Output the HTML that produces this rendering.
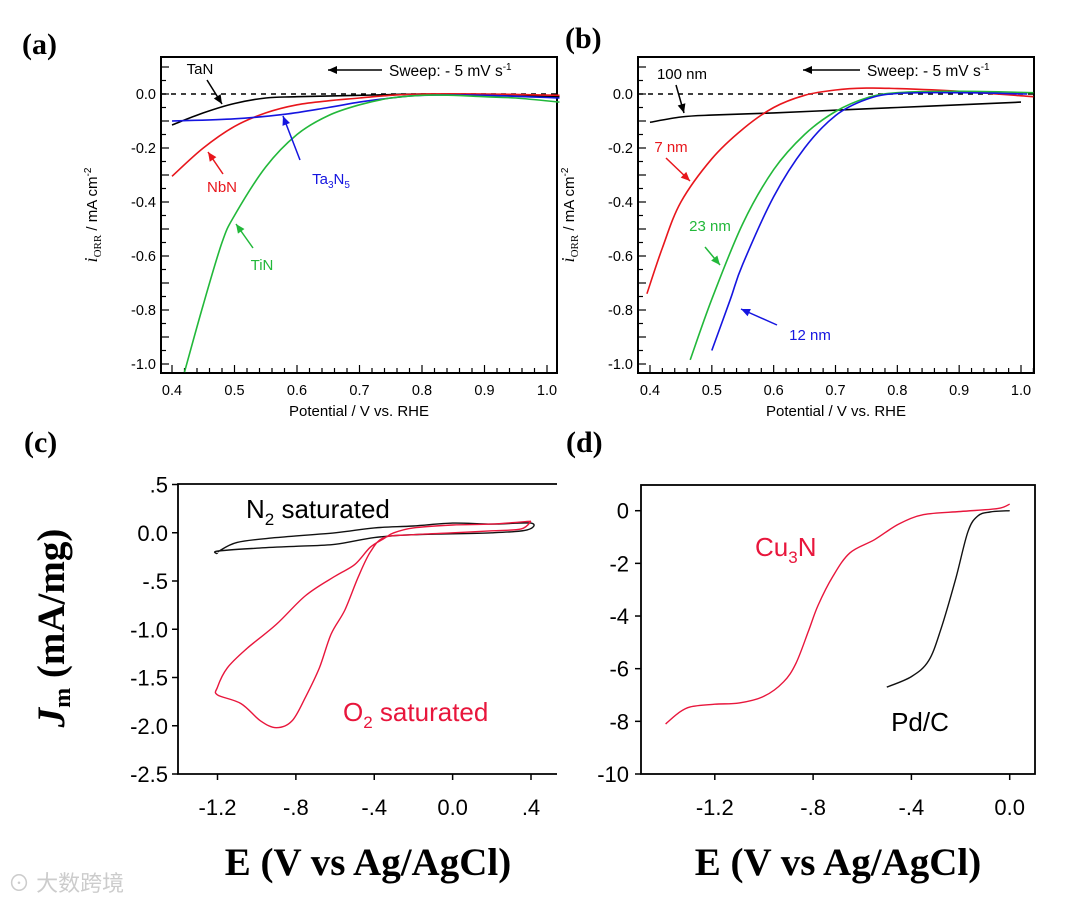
<!DOCTYPE html>
<html><head><meta charset="utf-8">
<style>
html,body{margin:0;padding:0;background:#fff;}
svg{display:block;}
text{font-family:"Liberation Sans","Noto Sans CJK SC",sans-serif;}
.pl{font-family:"Liberation Serif",serif;font-weight:bold;font-size:30px;}
.big{font-family:"Liberation Serif",serif;font-weight:bold;font-size:39px;}
</style></head>
<body>
<svg id="fig" width="1080" height="904" viewBox="0 0 1080 904" xmlns="http://www.w3.org/2000/svg">
<text class="pl" x="22" y="54">(a)</text>
<text class="pl" x="565" y="48">(b)</text>
<text class="pl" x="24" y="452">(c)</text>
<text class="pl" x="566" y="452">(d)</text>
<text x="8" y="891" font-size="22" fill="#ccc">⊙ 大数跨境</text>
</svg>
<script>
// ---- Panel a data ----
const aTaN_x=[0.40,0.45,0.50,0.55,0.60,0.70,0.80,0.90,1.02];
const aTaN_y=[-0.115,-0.07,-0.035,-0.015,-0.01,-0.005,0,-0.005,-0.01];
const aNbN_x=[0.40,0.45,0.50,0.55,0.60,0.65,0.70,0.75,0.80,0.90,1.02];
const aNbN_y=[-0.305,-0.2,-0.12,-0.07,-0.04,-0.025,-0.015,-0.005,0,0,-0.005];
const aTa3N5_x=[0.40,0.50,0.58,0.65,0.70,0.75,0.80,0.90,1.02];
const aTa3N5_y=[-0.1,-0.092,-0.075,-0.05,-0.03,-0.015,-0.005,-0.005,-0.015];
const aTiN_x=[0.42,0.45,0.48,0.50,0.55,0.60,0.65,0.70,0.75,0.80,0.85,0.90,0.95,1.02];
const aTiN_y=[-1.03,-0.78,-0.55,-0.45,-0.27,-0.15,-0.08,-0.04,-0.015,-0.005,-0.005,-0.01,-0.015,-0.03];
// ---- Panel b data ----
const b100_x=[0.40,0.45,0.50,0.60,0.70,0.80,0.90,1.00];
const b100_y=[-0.105,-0.085,-0.078,-0.07,-0.06,-0.05,-0.04,-0.03];
const b7_x=[0.395,0.42,0.45,0.50,0.55,0.60,0.65,0.70,0.75,0.80,0.90,1.02];
const b7_y=[-0.74,-0.57,-0.4,-0.24,-0.13,-0.05,-0.005,0.015,0.022,0.02,0.01,-0.01];
const b23_x=[0.465,0.50,0.55,0.60,0.65,0.70,0.75,0.80,0.90,1.02];
const b23_y=[-0.985,-0.76,-0.48,-0.28,-0.15,-0.065,-0.015,0.005,0.01,0.005];
const b12_x=[0.50,0.53,0.55,0.60,0.65,0.70,0.75,0.80,0.90,1.01];
const b12_y=[-0.95,-0.76,-0.63,-0.38,-0.2,-0.08,-0.02,0.002,0.005,0];
// ---- Panel c data ----
const cN2_x=[-1.2,-1.1,-0.9,-0.6,-0.4,-0.2,0.0,0.2,0.4,0.38,0.2,-0.2,-0.4,-0.6,-0.8,-1.0,-1.2,-1.2];
const cN2_y=[-0.2,-0.1,-0.05,0.0,0.05,0.07,0.1,0.09,0.1,0.03,0.0,-0.02,-0.05,-0.12,-0.14,-0.16,-0.19,-0.22];
const cO2_x=[0.4,0.35,0.2,0.0,-0.2,-0.35,-0.42,-0.48,-0.55,-0.62,-0.68,-0.75,-0.82,-0.9,-0.98,-1.08,-1.2,-1.2,-1.15,-1.05,-0.9,-0.75,-0.6,-0.5,-0.42,-0.35,-0.3,-0.2,0.0,0.2,0.4];
const cO2_y=[0.12,0.04,0.02,0.0,-0.02,-0.05,-0.2,-0.45,-0.8,-1.05,-1.4,-1.7,-1.95,-2.02,-1.95,-1.77,-1.68,-1.6,-1.4,-1.2,-0.95,-0.65,-0.45,-0.33,-0.15,-0.06,0.0,0.05,0.08,0.09,0.12];
// ---- Panel d data ----
const dCu_x=[-1.4,-1.35,-1.3,-1.2,-1.1,-1.0,-0.92,-0.87,-0.82,-0.78,-0.72,-0.65,-0.55,-0.45,-0.35,-0.2,-0.05,0.0];
const dCu_y=[-8.1,-7.7,-7.45,-7.35,-7.3,-7.05,-6.5,-5.8,-4.6,-3.6,-2.5,-1.6,-1.1,-0.5,-0.15,-0.03,0.08,0.25];
const dPd_x=[-0.5,-0.4,-0.33,-0.28,-0.22,-0.17,-0.13,-0.08,0.0];
const dPd_y=[-6.7,-6.3,-5.7,-4.5,-2.6,-0.8,-0.2,-0.05,0.0];
// tick labels
const abXTicks=["0.4","0.5","0.6","0.7","0.8","0.9","1.0"];
const abYTicks=["0.0","-0.2","-0.4","-0.6","-0.8","-1.0"];
const cXTicks=["-1.2","-.8","-.4","0.0",".4"];
const cYTicks=[".5","0.0","-.5","-1.0","-1.5","-2.0","-2.5"];
const dXTicks=["-1.2","-.8","-.4","0.0"];
const dYTicks=["0","-2","-4","-6","-8","-10"];

const NS="http://www.w3.org/2000/svg";
const svg=document.getElementById('fig');
function mk(tag,attrs,parent){const e=document.createElementNS(NS,tag);for(const k in attrs)e.setAttribute(k,attrs[k]);(parent||svg).appendChild(e);return e;}
function txt(s,x,y,size,anchor,fill,parent){const t=mk('text',{x:x,y:y,'font-size':size,'text-anchor':anchor||'middle',fill:fill||'#000'},parent);t.textContent=s;return t;}
function lin(x0,x1,p0,p1){return v=>p0+(v-x0)/(x1-x0)*(p1-p0);}
function smooth(pts){let d='M'+pts[0][0].toFixed(1)+','+pts[0][1].toFixed(1);
 for(let i=0;i<pts.length-1;i++){const p0=pts[i-1]||pts[i],p1=pts[i],p2=pts[i+1],p3=pts[i+2]||p2;
 const c1=[p1[0]+(p2[0]-p0[0])/6,p1[1]+(p2[1]-p0[1])/6],c2=[p2[0]-(p3[0]-p1[0])/6,p2[1]-(p3[1]-p1[1])/6];
 d+=' C'+c1[0].toFixed(1)+','+c1[1].toFixed(1)+' '+c2[0].toFixed(1)+','+c2[1].toFixed(1)+' '+p2[0].toFixed(1)+','+p2[1].toFixed(1);}return d;}
function series(xs,ys,sx,sy,color,name,w){
 const p=mk('path',{d:smooth(xs.map((x,i)=>[sx(x),sy(ys[i])])),fill:'none',stroke:color,'stroke-width':w||1.6});
 
 }
function arrow(x1,y1,x2,y2,color,name){
 const g=mk('g',{});
 
 
 mk('line',{x1:x1,y1:y1,x2:x2,y2:y2,stroke:color,'stroke-width':1.5},g);
 const a=Math.atan2(y2-y1,x2-x1),L=9,W=4;
 const bx=x2-L*Math.cos(a),by=y2-L*Math.sin(a);
 mk('polygon',{points:`${x2},${y2} ${bx-W*Math.sin(a)},${by+W*Math.cos(a)} ${bx+W*Math.sin(a)},${by-W*Math.cos(a)}`,fill:color},g);}

// ---------- panels a & b ----------
function panelAB(L,R,x04,x10,prefix,arrX1,arrX2,swX){
 const T=57,B=373;
 const sx=lin(0.4,1.0,x04,x10), sy=lin(0,-1,94,364);
 const f=mk('rect',{x:L,y:T,width:R-L,height:B-T,fill:'none',stroke:'#000','stroke-width':2});
 
 
 for(let v=0.38;v<=1.021;v+=0.02){const X=sx(v);if(X<L||X>R)continue;const maj=Math.abs(v*10-Math.round(v*10))<0.01;mk('line',{x1:X,y1:B,x2:X,y2:B-(maj?8:5),stroke:'#000','stroke-width':1.2});}
 for(let v=0.1;v>=-1.05;v-=0.05){const Y=sy(v);if(Y<T||Y>B)continue;const maj=Math.abs(v*10-Math.round(v*10))<0.01;mk('line',{x1:L,y1:Y,x2:L+(maj?8:5),y2:Y,stroke:'#000','stroke-width':1.2});}
 abXTicks.forEach((s,i)=>{const t=txt(s,sx(0.4+0.1*i),395,14.5);});
 abYTicks.forEach((s,i)=>{const t=txt(s,L-5,sy(-0.2*i)+5,14.5,'end');});
 const xt=txt('Potential  /  V vs. RHE',(L+R)/2,416,15);
 
 const yg=mk('text',{transform:`translate(${L-64},215) rotate(-90)`,'font-size':15,'text-anchor':'middle'});
 yg.innerHTML='<tspan font-family="Liberation Serif" font-style="italic" font-size="18">i</tspan><tspan font-family="Liberation Serif" font-size="11" dy="4">ORR</tspan><tspan dy="-4">  /  mA cm</tspan><tspan font-size="10" dy="-6">-2</tspan>';
 
 
 const z=mk('line',{x1:L,y1:sy(0),x2:R,y2:sy(0),stroke:'#000','stroke-width':1.5,'stroke-dasharray':'5,5'});
 
 arrow(arrX1,70,arrX2,70,'#000',prefix+'-sweep-arrow');
 const sw=mk('text',{x:swX,y:76,'font-size':15.5,'text-anchor':'start'});
 sw.innerHTML='Sweep: - 5 mV s<tspan font-size="10" dy="-6">-1</tspan>';
 
 return {sx,sy};
}
let A=panelAB(161,557,172,547,'panel-a',382,328,389);
series(aTaN_x,aTaN_y,A.sx,A.sy,'#000','tan-curve');
series(aNbN_x,aNbN_y,A.sx,A.sy,'#e8161c','nbn-curve');
series(aTa3N5_x,aTa3N5_y,A.sx,A.sy,'#1515e0','ta3n5-curve');
series(aTiN_x,aTiN_y,A.sx,A.sy,'#22b83a','tin-curve');
txt('TaN',200,74,15);
arrow(207,80,222,104,'#000','tan-arrow');
txt('NbN',222,192,15,'middle','#e8161c');
arrow(223,174,208,152,'#e8161c','nbn-arrow');
const tl=mk('text',{x:331,y:184,'font-size':15,'text-anchor':'middle',fill:'#1515e0'});
tl.innerHTML='Ta<tspan font-size="10" dy="4">3</tspan><tspan dy="-4">N</tspan><tspan font-size="10" dy="4">5</tspan>';

arrow(300,160,283,116,'#1515e0','ta3n5-arrow');
txt('TiN',262,270,15,'middle','#22b83a');
arrow(253,248,236,224,'#22b83a','tin-arrow');

let Bp=panelAB(638,1034,650,1021,'panel-b',860,803,867);
series(b100_x,b100_y,Bp.sx,Bp.sy,'#000','100nm-curve');
series(b7_x,b7_y,Bp.sx,Bp.sy,'#e8161c','7nm-curve');
series(b23_x,b23_y,Bp.sx,Bp.sy,'#22b83a','23nm-curve');
series(b12_x,b12_y,Bp.sx,Bp.sy,'#1515e0','12nm-curve');
txt('100 nm',682,79,15);
arrow(676,85,684,113,'#000','100nm-arrow');
txt('7 nm',671,152,15,'middle','#e8161c');
arrow(666,158,690,181,'#e8161c','7nm-arrow');
txt('23 nm',710,231,15,'middle','#22b83a');
arrow(705,247,720,265,'#22b83a','23nm-arrow');
txt('12 nm',810,340,15,'middle','#1515e0');
arrow(777,325,741,309,'#1515e0','12nm-arrow');

// ---------- panel c ----------
(function(){
 const L=178,R=557,T=484,B=774;
 const sx=lin(-1.2,0.4,217.5,531), sy=lin(0.5,-2.5,484.5,774);
 const f=mk('path',{d:`M${R},${T} H${L} V${B} H${R}`,fill:'none',stroke:'#000','stroke-width':1.8});
 
 cXTicks.forEach((s,i)=>{const X=sx(-1.2+0.4*i);mk('line',{x1:X,y1:B,x2:X,y2:B+6,stroke:'#000','stroke-width':1.5});const t=txt(s,X,815,22);});
 cYTicks.forEach((s,i)=>{const Y=sy(0.5-0.5*i);mk('line',{x1:L-6,y1:Y,x2:L,y2:Y,stroke:'#000','stroke-width':1.5});const t=txt(s,L-10,Y+8,22,'end');});
 series(cN2_x,cN2_y,sx,sy,'#111','n2-curve',1.4);
 series(cO2_x,cO2_y,sx,sy,'#e8163c','o2-curve',1.4);
 const n=mk('text',{x:246,y:518,'font-size':26});
 n.innerHTML='N<tspan font-size="17" dy="7">2</tspan><tspan dy="-7"> saturated</tspan>';
 
 const o=mk('text',{x:343,y:721,'font-size':26,fill:'#e8163c'});
 o.innerHTML='O<tspan font-size="17" dy="7">2</tspan><tspan dy="-7"> saturated</tspan>';
 
 const xt=mk('text',{x:368,y:875,'text-anchor':'middle',class:'big'});xt.textContent='E (V vs Ag/AgCl)';
 
 const yt=mk('text',{transform:'translate(64,628) rotate(-90)','text-anchor':'middle',class:'big'});
 yt.innerHTML='<tspan font-style="italic">J</tspan><tspan font-size="24" dy="6">m</tspan><tspan dy="-6"> (mA/mg)</tspan>';
 
})();

// ---------- panel d ----------
(function(){
 const L=641,R=1035,T=485,B=774;
 const sx=lin(-1.2,0,714.8,1009.7), sy=lin(0,-10,510.7,774);
 const f=mk('rect',{x:L,y:T,width:R-L,height:B-T,fill:'none',stroke:'#000','stroke-width':1.8});
 
 dXTicks.forEach((s,i)=>{const X=sx(-1.2+0.4*i);mk('line',{x1:X,y1:B,x2:X,y2:B+6,stroke:'#000','stroke-width':1.5});const t=txt(s,X,815,22);});
 dYTicks.forEach((s,i)=>{const Y=sy(-2*i);mk('line',{x1:L-6,y1:Y,x2:L,y2:Y,stroke:'#000','stroke-width':1.5});const t=txt(s,L-12,Y+8,22,'end');});
 series(dCu_x,dCu_y,sx,sy,'#e8163c','cu3n-curve',1.4);
 series(dPd_x,dPd_y,sx,sy,'#111','pdc-curve',1.4);
 const c=mk('text',{x:755,y:556,'font-size':26,fill:'#e8163c'});
 c.innerHTML='Cu<tspan font-size="17" dy="7">3</tspan><tspan dy="-7">N</tspan>';
 
 txt('Pd/C',920,731,26);
 const xt=mk('text',{x:838,y:875,'text-anchor':'middle',class:'big'});xt.textContent='E (V vs Ag/AgCl)';
 
})();
</script>
</body></html>
